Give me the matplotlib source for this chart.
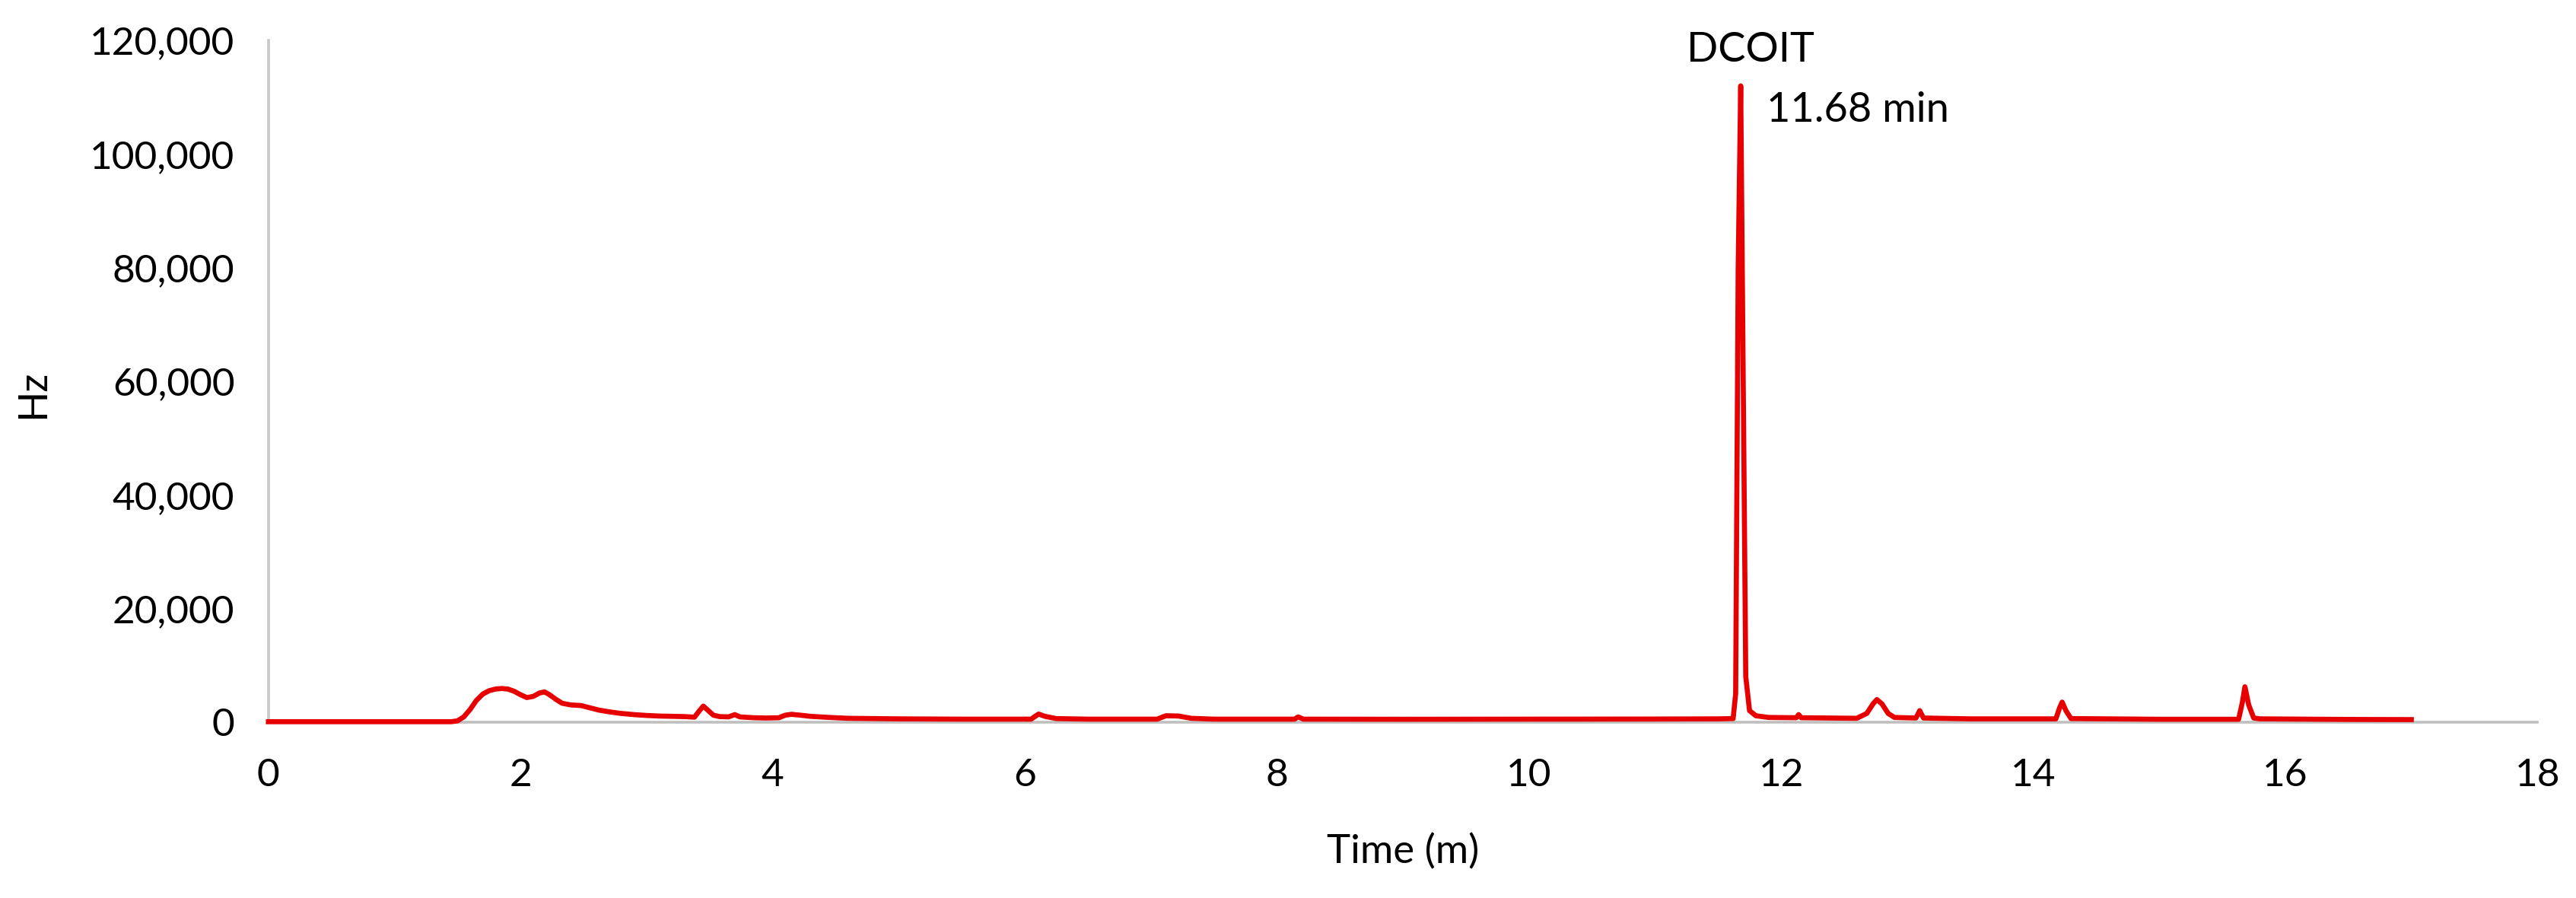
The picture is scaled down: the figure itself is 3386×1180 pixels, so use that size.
import matplotlib.pyplot as plt
from matplotlib.ticker import FuncFormatter

# chromatogram: retention time (min) and signal (Hz)
time_min = [
    0.00, 1.45, 1.50, 1.55, 1.60, 1.65, 1.70, 1.75, 1.80, 1.85, 1.90, 1.95,
    2.00, 2.05, 2.10, 2.15, 2.19, 2.23, 2.28, 2.33, 2.40, 2.48, 2.55, 2.62,
    2.70, 2.80, 2.90, 3.00, 3.10, 3.20, 3.30, 3.38, 3.42, 3.45, 3.49, 3.53,
    3.58, 3.65, 3.70, 3.74, 3.85, 3.95, 4.05, 4.10, 4.15, 4.22, 4.30, 4.45,
    4.60, 4.80, 5.00, 5.50, 6.05, 6.11, 6.16, 6.25, 6.50, 7.05, 7.12, 7.22,
    7.32, 7.50, 8.14, 8.17, 8.21, 9.00, 10.00, 11.00, 11.50, 11.62, 11.64,
    11.66, 11.68, 11.70, 11.72, 11.75, 11.80, 11.90, 12.12, 12.14, 12.16,
    12.60, 12.68, 12.73, 12.76, 12.80, 12.85, 12.90, 13.07, 13.10, 13.13,
    13.50, 14.18, 14.21, 14.23, 14.26, 14.30, 15.00, 15.63, 15.66, 15.68,
    15.71, 15.75, 15.80, 16.50, 17.00,
]
signal_hz = [
    50, 50, 200, 900, 2200, 3800, 4900, 5500, 5800, 5900, 5800, 5400,
    4800, 4300, 4500, 5100, 5300, 4800, 4000, 3300, 3000, 2900, 2500, 2100,
    1800, 1500, 1300, 1150, 1050, 1000, 950, 850, 2000, 2800, 2000, 1200,
    950, 900, 1300, 900, 750, 700, 750, 1200, 1350, 1200, 1000, 800,
    650, 600, 550, 500, 500, 1400, 1000, 600, 500, 500, 1100, 1050,
    650, 500, 500, 900, 500, 480, 500, 520, 550, 600, 5000,
    80000, 112000, 60000, 8000, 2000, 1100, 800, 750, 1300, 750,
    650, 1500, 3200, 3950, 3200, 1500, 800, 700, 2000, 700,
    550, 550, 2500, 3500, 2000, 600, 480, 480, 3500, 6200,
    3000, 700, 550, 450, 420,
]

x_ticks = [0, 2, 4, 6, 8, 10, 12, 14, 16, 18]
y_ticks = [0, 20000, 40000, 60000, 80000, 100000, 120000]

peak_name = "DCOIT"
peak_label = "11.68 min"

plt.rcParams['font.family'] = ['Lato', 'DejaVu Sans']

fig = plt.figure(figsize=(16.93, 5.9), dpi=200)
ax = fig.add_axes([0.1042, 0.196, 0.8808, 0.759])

ax.plot(time_min, signal_hz, color='#e60000', lw=2.4, zorder=3, clip_on=False)

ax.set_xlim(0, 18)
ax.set_ylim(0, 120000)
ax.set_xticks(x_ticks)
ax.set_yticks(y_ticks)
ax.yaxis.set_major_formatter(FuncFormatter(lambda v, p: f"{int(v):,}"))
ax.tick_params(axis='both', length=0, labelsize=18.5, colors='black')
ax.tick_params(axis='x', pad=17)
ax.tick_params(axis='y', pad=16)

for side in ['top', 'right']:
    ax.spines[side].set_visible(False)
ax.spines['left'].set_color('#c8c8c8')
ax.spines['bottom'].set_color('#bfbfbf')
ax.spines['left'].set_linewidth(1.3)
ax.spines['bottom'].set_linewidth(1.3)

ax.set_xlabel('Time (m)', fontsize=19)
ax.set_ylabel('Hz', fontsize=19)
ax.xaxis.set_label_coords(0.5, -0.163)
ax.yaxis.set_label_coords(-0.0958, 0.481)

ax.text(11.76, 116200, peak_name, fontsize=19.5, ha='center', va='baseline')
ax.text(11.885, 105700, peak_label, fontsize=19.5, ha='left', va='baseline')

fig.savefig('out.png', dpi=200)
